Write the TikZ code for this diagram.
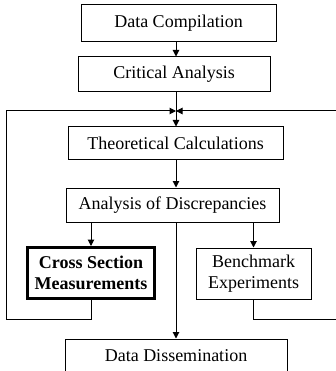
\documentclass[tikz,border=0pt]{standalone}
\usepackage{fontspec}
\setmainfont{Liberation Serif}
\usetikzlibrary{arrows.meta}
\tikzset{
  flow box/.style={
    draw,
    line width=1pt,
    fill=white,
    inner sep=0pt,
    align=center,
    font=\fontsize{18}{20.7}\selectfont
  },
  key box/.style={
    flow box,
    line width=3pt,
    font=\fontsize{18}{20.7}\selectfont\bfseries
  },
  flow arrow/.style={
    -{Triangle[length=6.5pt,width=6.5pt]},
    line width=1pt
  }
}

\begin{document}
\begin{tikzpicture}[x=1pt,y=-1pt]

  \useasboundingbox[fill=white] (0,0) rectangle (336,371);
  \coordinate (spine) at (176,0);
  \coordinate (merge) at (176,111);
  \coordinate (loopL) at (6,319);
  \coordinate (loopR) at (340,319);

  % Main chain
  \node[flow box, minimum width=195pt, minimum height=37pt] (dc) at (178.5,23.5) {Data Compilation};
  \node[flow box, minimum width=192pt, minimum height=35pt] (ca) at (174,74.5) {Critical Analysis};
  \node[flow box, minimum width=215pt, minimum height=33pt] (tc) at (175.5,143.5) {Theoretical Calculations};
  \node[flow box, minimum width=213pt, minimum height=34pt] (ad) at (172.5,205) {Analysis of Discrepancies};

  % Measurements and experiments
  \node[key box, minimum width=127pt, minimum height=51pt] (cs) at (91,273) {Cross Section\\Measurements};
  \node[flow box, minimum width=115pt, minimum height=51pt] (be) at (253.5,273.5) {Benchmark\\Experiments};

  % Output
  \node[flow box, minimum width=222pt, minimum height=32.5pt] (dd) at (176,355.25) {Data Dissemination};

  % Connectors
  \draw[flow arrow] (dc.south -| spine) -- (ca.north -| spine);
  \draw[flow arrow] (ca.south -| spine) -- (tc.north -| spine);
  \draw[flow arrow] (tc.south -| spine) -- (ad.north -| spine);
  \draw[flow arrow] (cs.north |- ad.south) -- (cs.north);
  \draw[flow arrow] (be.north |- ad.south) -- (be.north);
  \draw[flow arrow] (ad.south -| spine) -- (dd.north -| spine);

  % Feedback loops
  \draw[flow arrow] (cs.south) |- (loopL) |- (merge);
  \draw[flow arrow] (be.south) |- (loopR) |- (merge);

\end{tikzpicture}
\end{document}
